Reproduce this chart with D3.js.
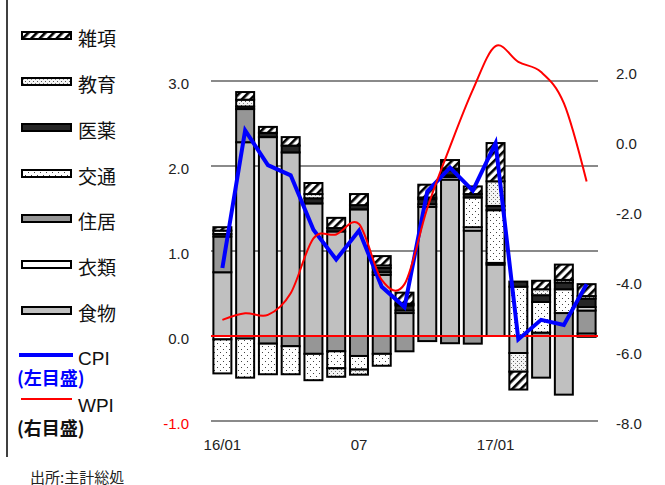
<!DOCTYPE html>
<html><head><meta charset="utf-8">
<script src="https://cdn.jsdelivr.net/npm/d3@7"></script>
<style>body{margin:0;background:#fff}</style>
</head><body><svg id="c" width="665" height="485"></svg>
<script>
const months = ["16/01","16/02","16/03","16/04","16/05","16/06","16/07","16/08","16/09","16/10","16/11","16/12","17/01","17/02","17/03","17/04","17/05"];
const xTickValues = ["16/01","16/07","17/01"];
const xTickLabels = ["16/01","07","17/01"];
const leftTicks = [3,2,1,0,-1];
const rightTicks = [2,0,-2,-4,-6,-8];
const seriesNames = ["食物","衣類","住居","交通","医薬","教育","雑項"];
const food      = [0.75,2.28,2.34,2.16,1.56,1.23,1.49,0.72,0.27,1.52,1.84,1.24,0.84,-0.20,-0.49,-0.69,-0.01];
const clothing  = [-0.04,-0.03,0,0,0,0,0,0.03,0.03,0.03,0.03,0.04,0.02,0,0,0,0.03];
const housing   = [0.42,0.39,-0.09,-0.12,-0.21,-0.18,-0.235,-0.21,-0.18,-0.06,-0.085,-0.09,0,0,0.04,0.27,0.27];
const transport = [-0.40,-0.46,-0.36,-0.33,-0.31,-0.20,-0.16,-0.14,0,0,0.02,0.35,0.62,0.58,0.36,0.28,0.04];
const medical   = [0.03,0.03,0.05,0.08,0.06,0.04,0.05,0.05,0.06,0.06,0.06,0.04,0.05,0.06,0.08,0.08,0.10];
const education = [0.04,0.08,0,0,0.05,-0.10,-0.06,0.03,0.02,0.02,0.02,0,0.29,-0.22,0.07,0.03,0.03];
const misc      = [0.04,0.09,0.07,0.10,0.13,0.12,0.13,0.11,0.13,0.15,0.10,0.09,0.45,-0.21,0.10,0.18,0.14];
const cpi = [0.80,2.42,2.01,1.89,1.25,0.90,1.24,0.58,0.34,1.70,1.98,1.71,2.27,-0.04,0.19,0.13,0.61];
const wpi = [-5.11,-4.92,-4.97,-4.35,-2.78,-2.67,-2.37,-3.97,-4.09,-1.92,-0.16,1.46,2.71,2.26,1.97,1.08,-1.16];
const legendOrder = ["雑項","教育","医薬","交通","住居","衣類","食物"];

const seriesArrays = [food,clothing,housing,transport,medical,education,misc];
const rows = months.map((m,i)=>{const o={month:m}; seriesNames.forEach((k,j)=>o[k]=seriesArrays[j][i]); return o;});

const svg = d3.select("#c");
const defs = svg.append("defs");
// hatch
const h = defs.append("pattern").attr("id","hatch").attr("patternUnits","userSpaceOnUse")
  .attr("width",6).attr("height",6).attr("patternTransform","rotate(45)");
h.append("rect").attr("width",6).attr("height",6).attr("fill","#fff");
h.append("rect").attr("width",2.6).attr("height",6).attr("fill","#000");
// sparse dots (交通)
const ds = defs.append("pattern").attr("id","dotSparse").attr("patternUnits","userSpaceOnUse").attr("width",6).attr("height",6);
ds.append("rect").attr("width",6).attr("height",6).attr("fill","#fff");
ds.append("rect").attr("x",1).attr("y",1).attr("width",1).attr("height",1).attr("fill","#444");
ds.append("rect").attr("x",4).attr("y",4).attr("width",1).attr("height",1).attr("fill","#444");
// dense dots (教育)
const dd = defs.append("pattern").attr("id","dotDense").attr("patternUnits","userSpaceOnUse").attr("width",4).attr("height",4);
dd.append("rect").attr("width",4).attr("height",4).attr("fill","#f4f4f4");
dd.append("rect").attr("x",1).attr("y",1).attr("width",1).attr("height",1).attr("fill","#555");
dd.append("rect").attr("x",3).attr("y",3).attr("width",1).attr("height",1).attr("fill","#888");

const fills = {"食物":"#c0c0c0","衣類":"#ffffff","住居":"#969696","交通":"url(#dotSparse)","医薬":"#262626","教育":"url(#dotDense)","雑項":"url(#hatch)"};

const x = d3.scaleBand().domain(months).range([211,598]).paddingInner(0.21).paddingOuter(0.105);
const yL = d3.scaleLinear().domain([-1,3]).range([421,81]);
const yR = d3.scaleLinear().domain([-8,2]).range([421,71]);

// left frame line
svg.append("line").attr("x1",7).attr("x2",7).attr("y1",0).attr("y2",457).attr("stroke","#000").attr("stroke-width",1.5);

// gridlines
svg.append("g").selectAll("line").data(leftTicks.filter(d=>d!==0)).join("line")
  .attr("x1",211).attr("x2",598).attr("y1",d=>yL(d)).attr("y2",d=>yL(d))
  .attr("stroke","#8a8a8a").attr("stroke-width",2);

// bars
const stacked = d3.stack().keys(seriesNames).offset(d3.stackOffsetDiverging)(rows);
svg.append("g").selectAll("g").data(stacked).join("g")
  .attr("fill",d=>fills[d.key])
  .selectAll("rect").data(d=>d.filter(p=>p[1]!==p[0])).join("rect")
  .attr("x",d=>x(d.data.month)).attr("width",x.bandwidth())
  .attr("y",d=>yL(Math.max(d[0],d[1]))).attr("height",d=>Math.abs(yL(d[0])-yL(d[1])))
  .attr("stroke","#000").attr("stroke-width",2);

// zero axis line red
svg.append("line").attr("x1",211).attr("x2",598).attr("y1",yL(0)).attr("y2",yL(0)).attr("stroke","#ff0000").attr("stroke-width",2);

// CPI
const cx = (d,i)=>x(months[i])+x.bandwidth()/2;
svg.append("path").datum(cpi).attr("fill","none").attr("stroke","#0000ff").attr("stroke-width",4)
  .attr("d",d3.line().x(cx).y(d=>yL(d)));
// WPI
svg.append("path").datum(wpi).attr("fill","none").attr("stroke","#ff0000").attr("stroke-width",2)
  .attr("d",d3.line().x(cx).y(d=>yR(d)).curve(d3.curveCardinal.tension(0)));

// axes
const fontNum = "'Liberation Sans', Arial, sans-serif";
const gl = svg.append("g").attr("transform","translate(189,3)")
  .call(d3.axisLeft(yL).tickValues(leftTicks).tickSize(0).tickPadding(0).tickFormat(d=>d.toFixed(1)));
gl.select(".domain").remove();
gl.selectAll("text").attr("font-family",fontNum).attr("font-size",15).attr("fill",d=>d<0?"#ff0000":"#222");

const gr = svg.append("g").attr("transform","translate(616,3)")
  .call(d3.axisRight(yR).tickValues(rightTicks).tickSize(0).tickPadding(0).tickFormat(d=>d.toFixed(1)));
gr.select(".domain").remove();
gr.selectAll("text").attr("font-family",fontNum).attr("font-size",15).attr("fill","#222");

const gx = svg.append("g").attr("transform","translate(0,439)")
  .call(d3.axisBottom(x).tickValues(xTickValues).tickSize(0).tickPadding(0).tickFormat((d,i)=>xTickLabels[i]));
gx.select(".domain").remove();
gx.selectAll("text").attr("font-family",fontNum).attr("font-size",15).attr("fill","#222");

// legend
const jp = "'Noto Sans CJK JP', sans-serif";
const legY = [37,83,129,175,220,266,312];
const lg = svg.append("g");
legendOrder.forEach((k,i)=>{
  lg.append("rect").attr("x",22).attr("y",legY[i]-5).attr("width",49).attr("height",7)
    .attr("fill",fills[k]).attr("stroke","#000").attr("stroke-width",2);
  lg.append("text").attr("x",78).attr("y",legY[i]).attr("dominant-baseline","central")
    .attr("font-family",jp).attr("font-size",19).attr("fill","#111").text(k);
});
lg.append("line").attr("x1",19).attr("x2",73).attr("y1",355).attr("y2",355).attr("stroke","#0000ff").attr("stroke-width",4);
lg.append("text").attr("x",78).attr("y",358).attr("dominant-baseline","central").attr("font-family",fontNum).attr("font-size",19).attr("fill","#111").text("CPI");
lg.append("text").attr("x",17).attr("y",377).attr("dominant-baseline","central").attr("font-family",jp).attr("font-weight","bold").attr("font-size",18).attr("fill","#0000ff").text("(左目盛)");
lg.append("line").attr("x1",21).attr("x2",72).attr("y1",399).attr("y2",399).attr("stroke","#ff0000").attr("stroke-width",2);
lg.append("text").attr("x",78).attr("y",405).attr("dominant-baseline","central").attr("font-family",fontNum).attr("font-size",19).attr("fill","#111").text("WPI");
lg.append("text").attr("x",17).attr("y",427).attr("dominant-baseline","central").attr("font-family",jp).attr("font-weight","bold").attr("font-size",18).attr("fill","#111").text("(右目盛)");
svg.append("text").attr("x",30).attr("y",476).attr("dominant-baseline","central").attr("font-family",jp).attr("font-size",15).attr("fill","#222").text("出所:主計総処");
</script></body></html>
